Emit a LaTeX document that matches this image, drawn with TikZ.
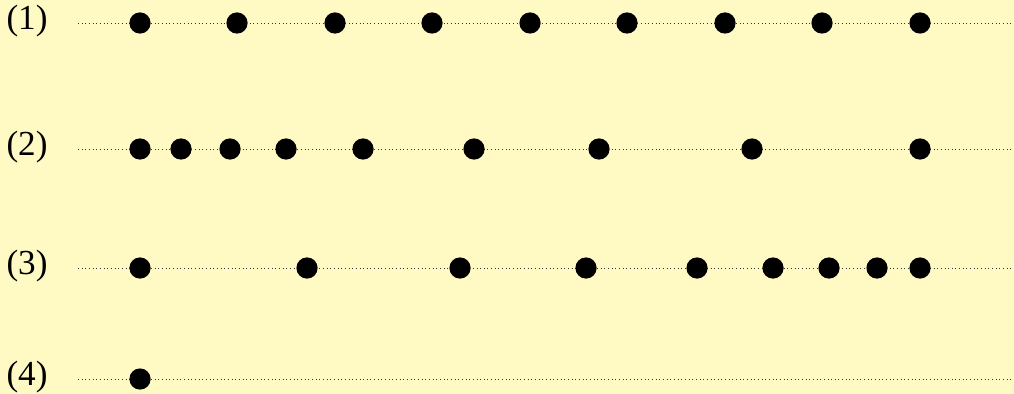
\documentclass[tikz,border=0pt]{standalone}
\usepackage{fontspec}
\setmainfont{Liberation Serif}
\definecolor{paper}{RGB}{255,249,196}
\tikzset{
  dot/.style={circle,fill=black,inner sep=0pt,minimum size=0.53cm},
  rule/.style={dash pattern=on 0.7pt off 1.9pt,line width=0.7pt,black!80},
  tag/.style={font=\fontsize{25}{30}\selectfont,inner sep=0pt}
}
\begin{document}
\begin{tikzpicture}[x=0.025cm,y=-0.025cm]
  \fill[paper] (0,0) rectangle (1014,394);
  \useasboundingbox (0,0) rectangle (1014,394);

  \node[tag] (t1) at (27,21) {(1)};
  \node[tag] (t2) at (27,147) {(2)};
  \node[tag] (t3) at (27,266) {(3)};
  \node[tag] (t4) at (27,377) {(4)};

  \coordinate (a1) at (78,23);   \coordinate (b1) at (1014,23);
  \coordinate (a2) at (78,149);  \coordinate (b2) at (1014,149);
  \coordinate (a3) at (78,268);  \coordinate (b3) at (1014,268);
  \coordinate (a4) at (78,379);  \coordinate (b4) at (1014,379);
  \draw[rule] (a1)--(b1);
  \draw[rule] (a2)--(b2);
  \draw[rule] (a3)--(b3);
  \draw[rule] (a4)--(b4);

  % even steps
  \foreach \x [count=\i] in {140,237,335,432,530,627,725,822,920}
    \node[dot] (p1-\i) at (\x,23) {};
  % widening
  \foreach \x [count=\i] in {140,181,230,286,363,474,599,752,920}
    \node[dot] (p2-\i) at (\x,149) {};
  % narrowing
  \foreach \x [count=\i] in {140,307,460,586,697,773,829,877,920}
    \node[dot] (p3-\i) at (\x,268) {};
  \node[dot] (p4-1) at (140,379) {};
\end{tikzpicture}
\end{document}
